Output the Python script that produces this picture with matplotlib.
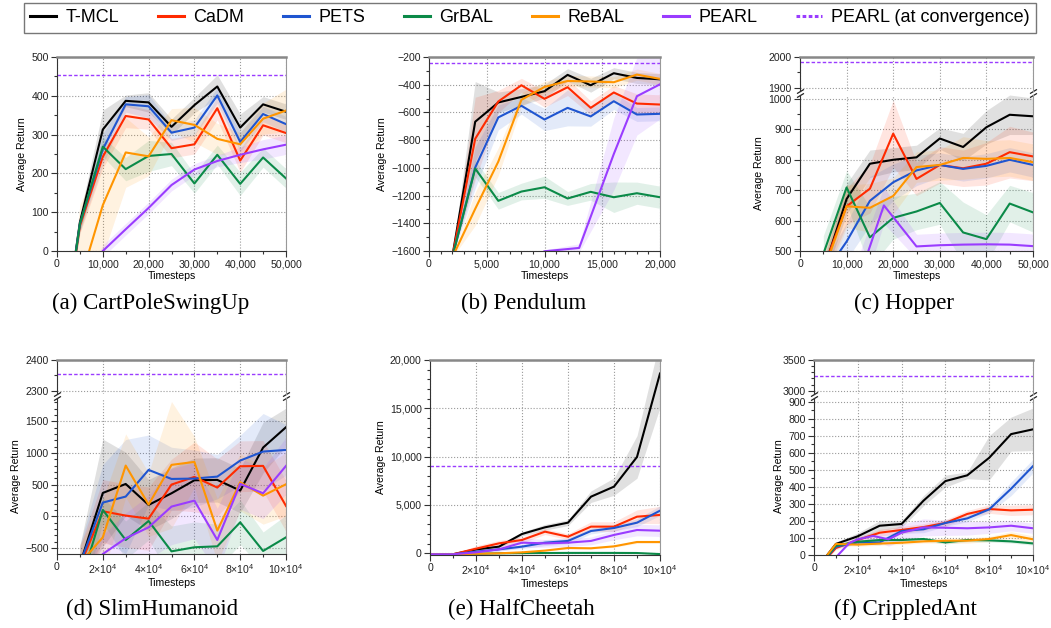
import matplotlib
matplotlib.use("Agg")
import matplotlib.pyplot as plt
from matplotlib.ticker import MultipleLocator, FuncFormatter
from matplotlib.lines import Line2D

plt.rcParams["font.family"] = ["Liberation Sans", "DejaVu Sans"]
plt.rcParams["mathtext.default"] = "regular"

W, H = 1051, 628

METHODS = ["T-MCL", "CaDM", "PETS", "GrBAL", "ReBAL", "PEARL"]
COLORS = {
    "T-MCL": "#000000",
    "CaDM": "#ff2a00",
    "PETS": "#1f55d0",
    "GrBAL": "#0b8a48",
    "ReBAL": "#ff9500",
    "PEARL": "#9a3cff",
}
CONV_COLOR = "#9a3cff"

# ---------------------------------------------------------------------------
# (a) CartPoleSwingUp
# ---------------------------------------------------------------------------
CARTPOLE_X = [0, 5000, 10000, 15000, 20000, 25000, 30000, 35000, 40000, 45000, 50000]
CARTPOLE_MEAN = {
    "T-MCL": [-340, 74, 313, 387, 383, 320, 376, 424, 318, 378, 359],
    "CaDM":  [-340, 65, 243, 348, 339, 265, 275, 368, 233, 324, 304],
    "PETS":  [-340, 70, 262, 378, 373, 305, 318, 401, 281, 353, 327],
    "GrBAL": [-340, 70, 269, 211, 245, 250, 174, 248, 173, 241, 187],
    "ReBAL": [-400, -80, 118, 254, 244, 337, 325, 289, 275, 341, 362],
    "PEARL": [-500, -110, 0, 56, 111, 170, 210, 232, 248, 262, 274],
}
CARTPOLE_STD = {
    "T-MCL": [0, 20, 50, 15, 25, 20, 20, 30, 35, 20, 20],
    "CaDM":  [0, 20, 30, 30, 25, 25, 25, 30, 30, 25, 25],
    "PETS":  [0, 20, 40, 20, 30, 20, 20, 20, 25, 20, 20],
    "GrBAL": [0, 20, 25, 30, 40, 30, 25, 25, 30, 25, 25],
    "ReBAL": [0, 200, 130, 90, 50, 30, 45, 40, 30, 40, 55],
    "PEARL": [0, 15, 15, 15, 15, 15, 15, 15, 20, 25, 25],
}
CARTPOLE_CONV = 453

# ---------------------------------------------------------------------------
# (b) Pendulum
# ---------------------------------------------------------------------------
PENDULUM_X = [2000, 4000, 6000, 8000, 10000, 12000, 14000, 16000, 18000, 20000]
PENDULUM_MEAN = {
    "T-MCL": [-1650, -667, -528, -488, -447, -329, -404, -317, -351, -361],
    "CaDM":  [-1650, -790, -521, -404, -502, -418, -567, -456, -536, -543],
    "PETS":  [-1650, -998, -636, -552, -651, -567, -629, -519, -615, -610],
    "GrBAL": [-1650, -1005, -1238, -1171, -1140, -1221, -1173, -1212, -1183, -1212],
    "ReBAL": [-1650, -1296, -955, -509, -416, -373, -377, -382, -327, -358],
}
PENDULUM_STD = {
    "T-MCL": [0, 290, 75, 60, 50, 45, 50, 40, 40, 40],
    "CaDM":  [0, 300, 80, 50, 60, 60, 50, 50, 70, 70],
    "PETS":  [0, 150, 90, 60, 80, 130, 70, 60, 50, 50],
    "GrBAL": [0, 60, 60, 60, 80, 50, 60, 110, 80, 80],
    "ReBAL": [0, 120, 100, 50, 40, 40, 40, 40, 40, 40],
}
PENDULUM_PEARL_X = [10000, 13000, 16000, 18000, 20000]
PENDULUM_PEARL_MEAN = [-1602, -1578, -900, -483, -397]
PENDULUM_PEARL_STD = [10, 30, 260, 280, 250]
PENDULUM_CONV = -245

# ---------------------------------------------------------------------------
# (c) Hopper
# ---------------------------------------------------------------------------
HOPPER_X = [5000, 10000, 15000, 20000, 25000, 30000, 35000, 40000, 45000, 50000]
HOPPER_MEAN = {
    "T-MCL": [434, 671, 787, 800, 808, 870, 842, 907, 948, 943],
    "CaDM":  [443, 647, 705, 886, 737, 783, 772, 787, 825, 811],
    "PETS":  [420, 531, 665, 726, 765, 783, 770, 780, 800, 783],
    "GrBAL": [490, 709, 545, 609, 630, 658, 561, 539, 656, 627],
    "ReBAL": [430, 647, 642, 681, 776, 783, 806, 803, 806, 792],
}
HOPPER_STD = {
    "T-MCL": [30, 50, 45, 40, 40, 35, 45, 55, 65, 60],
    "CaDM":  [40, 60, 80, 110, 55, 60, 60, 70, 85, 80],
    "PETS":  [40, 60, 80, 60, 50, 40, 40, 40, 40, 40],
    "GrBAL": [60, 55, 100, 70, 60, 70, 100, 80, 60, 65],
    "ReBAL": [50, 70, 80, 60, 50, 50, 70, 60, 60, 60],
}
HOPPER_PEARL_X = [12000, 18000, 25000, 30000, 35000, 40000, 45000, 50000]
HOPPER_PEARL_MEAN = [380, 650, 515, 519, 521, 522, 521, 516]
HOPPER_PEARL_STD = [80, 60, 40, 40, 40, 40, 40, 40]
HOPPER_CONV = 1983

# ---------------------------------------------------------------------------
# (d) SlimHumanoid
# ---------------------------------------------------------------------------
HUMANOID_X = [10000, 20000, 30000, 40000, 50000, 60000, 70000, 80000, 90000, 100000]
HUMANOID_MEAN = {
    "T-MCL": [-760, 368, 510, 179, 363, 568, 574, 405, 1084, 1405],
    "CaDM":  [-780, 79, 11, -37, 500, 621, 453, 789, 795, 163],
    "PETS":  [-750, 216, 311, 732, 589, 595, 626, 879, 1021, 1047],
    "GrBAL": [-1100, 100, -374, -74, -553, -489, -474, -95, -547, -332],
    "ReBAL": [-745, -332, 800, 184, 811, 858, -226, 537, 326, 505],
    "PEARL": [-1200, -595, -347, -174, 153, 247, -374, 511, 363, 795],
}
HUMANOID_STD = {
    "T-MCL": [300, 850, 500, 400, 400, 350, 350, 350, 400, 300],
    "CaDM":  [300, 500, 500, 500, 400, 550, 450, 400, 400, 400],
    "PETS":  [300, 600, 900, 550, 500, 450, 350, 400, 600, 400],
    "GrBAL": [300, 200, 300, 300, 400, 400, 350, 350, 300, 350],
    "ReBAL": [300, 600, 500, 500, 1000, 400, 500, 450, 450, 500],
    "PEARL": [300, 300, 400, 500, 600, 600, 500, 400, 400, 450],
}
HUMANOID_CONV = 2355

# ---------------------------------------------------------------------------
# (e) HalfCheetah
# ---------------------------------------------------------------------------
CHEETAH_X = [0, 10000, 20000, 30000, 40000, 50000, 60000, 70000, 80000, 90000, 100000]
CHEETAH_MEAN = {
    "T-MCL": [-100, -100, 400, 690, 2000, 2690, 3170, 5860, 6900, 9970, 18600],
    "CaDM":  [-100, -100, 480, 1030, 1380, 2240, 1720, 2760, 2760, 3790, 3970],
    "PETS":  [-100, -100, 170, 410, 690, 1100, 1280, 2310, 2620, 3170, 4410],
    "GrBAL": [-100, -100, -50, 0, 20, 30, 40, 40, 40, 30, -80],
    "ReBAL": [-100, -100, -50, 0, 100, 280, 550, 520, 720, 1170, 1170],
    "PEARL": [-100, -100, 100, 410, 1100, 1030, 1100, 1280, 1900, 2410, 2340],
}
CHEETAH_STD = {
    "T-MCL": [0, 0, 100, 150, 200, 300, 300, 600, 900, 2200, 3500],
    "CaDM":  [0, 0, 300, 300, 300, 300, 300, 500, 500, 700, 900],
    "PETS":  [0, 0, 100, 150, 200, 300, 300, 300, 300, 400, 500],
    "GrBAL": [0, 0, 30, 30, 30, 30, 30, 30, 30, 30, 30],
    "ReBAL": [0, 0, 30, 30, 60, 60, 80, 80, 100, 150, 150],
    "PEARL": [0, 0, 100, 200, 500, 400, 400, 400, 500, 600, 600],
}
CHEETAH_CONV = 9000

# ---------------------------------------------------------------------------
# (f) CrippledAnt
# ---------------------------------------------------------------------------
ANT_X = [0, 10000, 20000, 30000, 40000, 50000, 60000, 70000, 80000, 90000, 100000]
ANT_MEAN = {
    "T-MCL": [-100, 65, 110, 172, 182, 319, 434, 468, 571, 710, 738],
    "CaDM":  [-100, 41, 88, 131, 147, 164, 188, 241, 270, 262, 266],
    "PETS":  [-100, 49, 74, 74, 141, 151, 188, 215, 268, 389, 522],
    "GrBAL": [-100, 55, 78, 88, 88, 94, 74, 88, 86, 80, 68],
    "ReBAL": [-100, 65, 61, 67, 72, 80, 84, 84, 94, 117, 92],
}
ANT_STD = {
    "T-MCL": [0, 10, 20, 30, 20, 30, 35, 20, 130, 100, 125],
    "CaDM":  [0, 10, 15, 20, 20, 20, 20, 20, 25, 30, 30],
    "PETS":  [0, 10, 10, 15, 15, 20, 20, 20, 20, 40, 40],
    "GrBAL": [0, 10, 10, 10, 10, 10, 10, 10, 10, 10, 10],
    "ReBAL": [0, 10, 10, 10, 10, 10, 15, 15, 15, 20, 20],
}
ANT_PEARL_X = [10000, 16000, 20000, 27000, 34000, 40000, 50000, 60000, 70000, 80000, 90000, 100000]
ANT_PEARL_MEAN = [-14, 69, 92, 112, 92, 131, 162, 160, 157, 162, 172, 157]
ANT_PEARL_STD = [0, 10, 15, 20, 40, 50, 50, 45, 40, 35, 30, 30]
ANT_CONV = 3234

CAPTIONS = ["(a) CartPoleSwingUp", "(b) Pendulum", "(c) Hopper",
            "(d) SlimHumanoid", "(e) HalfCheetah", "(f) CrippledAnt"]


# ---------------------------------------------------------------------------
# helpers
# ---------------------------------------------------------------------------
def rect(l, t, r, b):
    return [l / W, 1 - b / H, (r - l) / W, (b - t) / H]


def fmt_plain(v, p):
    return f"{int(round(v))}".replace("-", "\u2212")


def fmt_comma(v, p):
    return f"{int(round(v)):,}".replace("-", "\u2212")


def fmt_sci(v, p):
    if abs(v) < 1:
        return "0"
    return r"$%d{\times}10^{4}$" % int(round(v / 1e4))


def style(ax, top=True, bottom=True):
    for side in ("left", "bottom"):
        ax.spines[side].set_color("#333333")
        ax.spines[side].set_linewidth(0.8)
    ax.spines["right"].set_color("#999999")
    ax.spines["right"].set_linewidth(0.8)
    ax.spines["top"].set_color("#888888")
    ax.spines["top"].set_linewidth(1.8)
    ax.spines["top"].set_visible(top)
    ax.spines["bottom"].set_visible(bottom)
    ax.tick_params(which="both", direction="out", colors="#333333",
                   labelcolor="#222222", labelsize=7.6, pad=2, width=0.8)
    ax.tick_params(which="major", length=4)
    ax.tick_params(which="minor", length=2)
    ax.tick_params(axis="y", which="both", right=False)
    ax.tick_params(axis="x", which="both", top=False)
    ax.grid(True, which="major", ls=":", color="#9a9a9a", lw=0.8)
    ax.set_axisbelow(True)


def curves(ax, x, mean, std, pearl=None):
    for m in METHODS:
        if m in mean:
            xs, mu, sd = x, mean[m], std[m]
        elif pearl is not None:
            xs, mu, sd = pearl
        else:
            continue
        lo = [a - b for a, b in zip(mu, sd)]
        hi = [a + b for a, b in zip(mu, sd)]
        ax.fill_between(xs, lo, hi, color=COLORS[m], alpha=0.12, lw=0)
        ax.plot(xs, mu, color=COLORS[m], lw=1.5)


def conv_line(ax, y):
    ax.axhline(y, color=CONV_COLOR, lw=1.0, ls=(0, (2.5, 1.5)))


def xaxis(ax, xmax, major, minor, fmt):
    ax.set_xlim(0, xmax)
    ax.xaxis.set_major_locator(MultipleLocator(major))
    ax.xaxis.set_minor_locator(MultipleLocator(minor))
    ax.xaxis.set_major_formatter(FuncFormatter(fmt))
    ax.set_xlabel("Timesteps", fontsize=7.6, labelpad=1)


def yaxis(ax, lo, hi, major, minor, fmt):
    ax.set_ylim(lo, hi)
    ax.yaxis.set_major_locator(MultipleLocator(major))
    ax.yaxis.set_minor_locator(MultipleLocator(minor))
    ax.yaxis.set_major_formatter(FuncFormatter(fmt))


def break_marks(ax_hi, ax_lo):
    kw = dict(marker=[(-1, -0.6), (1, 0.6)], markersize=5, linestyle="none",
              color="#222222", mec="#222222", mew=0.9, clip_on=False)
    ax_hi.plot([0, 1], [0, 0], transform=ax_hi.transAxes, **kw)
    ax_lo.plot([0, 1], [1, 1], transform=ax_lo.transAxes, **kw)


def broken_panel(fig, l, t, r, b, junction, hi_lim, lo_lim, hi_step, lo_step):
    ax_hi = fig.add_axes(rect(l, t, r, junction - 2))
    ax_lo = fig.add_axes(rect(l, junction + 2, r, b), sharex=ax_hi)
    style(ax_hi, top=True, bottom=False)
    style(ax_lo, top=False, bottom=True)
    ax_hi.tick_params(axis="x", which="both", bottom=False, labelbottom=False)
    yaxis(ax_hi, hi_lim[0], hi_lim[1], hi_step[0], hi_step[1], fmt_plain)
    yaxis(ax_lo, lo_lim[0], lo_lim[1], lo_step[0], lo_step[1], fmt_plain)
    break_marks(ax_hi, ax_lo)
    ax_lo.set_ylabel("Average Return", fontsize=7.6, labelpad=3)
    return ax_hi, ax_lo


# ---------------------------------------------------------------------------
# figure
# ---------------------------------------------------------------------------
fig = plt.figure(figsize=(W / 100, H / 100), dpi=100)

# (a)
ax = fig.add_axes(rect(57, 57, 286, 251))
style(ax)
curves(ax, CARTPOLE_X, CARTPOLE_MEAN, CARTPOLE_STD)
conv_line(ax, CARTPOLE_CONV)
xaxis(ax, 50000, 10000, 5000, fmt_comma)
yaxis(ax, 0, 500, 100, 50, fmt_plain)
ax.set_ylabel("Average Return", fontsize=7.6, labelpad=3)

# (b)
ax = fig.add_axes(rect(429, 57, 660, 251))
style(ax)
curves(ax, PENDULUM_X, PENDULUM_MEAN, PENDULUM_STD,
       (PENDULUM_PEARL_X, PENDULUM_PEARL_MEAN, PENDULUM_PEARL_STD))
conv_line(ax, PENDULUM_CONV)
xaxis(ax, 20000, 5000, 1000, fmt_comma)
yaxis(ax, -1600, -200, 200, 100, fmt_plain)
ax.set_ylabel("Average Return", fontsize=7.6, labelpad=3)

# (c)
ax_hi, ax_lo = broken_panel(fig, 800, 57, 1033, 251, 93,
                            (1889, 2000), (500, 1013), (100, 50), (100, 50))
conv_line(ax_hi, HOPPER_CONV)
curves(ax_lo, HOPPER_X, HOPPER_MEAN, HOPPER_STD,
       (HOPPER_PEARL_X, HOPPER_PEARL_MEAN, HOPPER_PEARL_STD))
xaxis(ax_lo, 50000, 10000, 5000, fmt_comma)

# (d)
ax_hi, ax_lo = broken_panel(fig, 57, 360, 286, 554, 396,
                            (2289, 2400), (-595, 1866), (100, 50), (500, 100))
conv_line(ax_hi, HUMANOID_CONV)
curves(ax_lo, HUMANOID_X, HUMANOID_MEAN, HUMANOID_STD)
xaxis(ax_lo, 100000, 20000, 10000, fmt_sci)

# (e)
ax = fig.add_axes(rect(430, 360, 660, 555))
style(ax)
curves(ax, CHEETAH_X, CHEETAH_MEAN, CHEETAH_STD)
conv_line(ax, CHEETAH_CONV)
xaxis(ax, 100000, 20000, 10000, fmt_sci)
yaxis(ax, -175, 20000, 5000, 1000, fmt_comma)
ax.set_ylabel("Average Return", fontsize=7.6, labelpad=3)

# (f)
ax_hi, ax_lo = broken_panel(fig, 814, 360, 1033, 555, 396,
                            (2946, 3500), (0, 922), (500, 100), (100, 50))
conv_line(ax_hi, ANT_CONV)
curves(ax_lo, ANT_X, ANT_MEAN, ANT_STD,
       (ANT_PEARL_X, ANT_PEARL_MEAN, ANT_PEARL_STD))
xaxis(ax_lo, 100000, 20000, 10000, fmt_sci)

# captions
cap_pos = [(151, 303), (524, 303), (904, 303), (152, 609), (521, 609), (905, 609)]
for text, (cx, cy) in zip(CAPTIONS, cap_pos):
    fig.text(cx / W, 1 - cy / H, text, ha="center", va="center", fontsize=16.5,
             family=["Liberation Serif", "DejaVu Serif"])

# legend
handles = [Line2D([0], [0], color=COLORS[m], lw=2.2) for m in METHODS]
handles.append(Line2D([0], [0], color=CONV_COLOR, lw=2.2, ls=(0, (1.2, 0.8))))
labels = METHODS + ["PEARL (at convergence)"]
leg = fig.legend(handles, labels, loc="upper center", bbox_to_anchor=(530 / W, 1 - 3 / H),
                 ncol=7, fontsize=13, frameon=True, fancybox=False, edgecolor="#555555",
                 handlelength=1.45, handletextpad=0.5, columnspacing=2.15, borderpad=0.35,
                 borderaxespad=0)
leg.get_frame().set_linewidth(1.0)

fig.savefig("out.png", dpi=100)
